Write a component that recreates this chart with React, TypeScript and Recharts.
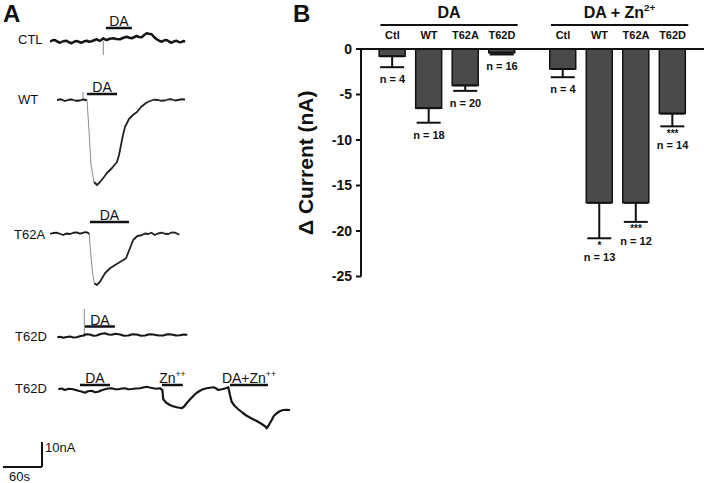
import React from 'react';
import {
  LineChart,
  Line,
  XAxis,
  YAxis,
  ReferenceLine,
  ComposedChart,
  Bar,
  ErrorBar,
  Scatter,
  Label,
} from 'recharts';

const FONT = '"Liberation Sans", Arial, Helvetica, sans-serif';
const INK = '#111111';
const PX_PER_S = 0.65;
const PX_PER_NA = 2.5;

// ---------- Panel A: current traces, [time (s), current (nA)] ----------
const ctlTrace: [number, number][] = [
  [0, -0.3], [4, 0.3], [7.7, 0.4], [11, -0.2], [15.4, -0.7], [20, -0.1], [25.6, 0.1], [29, -0.5],
  [33.3, -0.9], [37, -0.3], [41, 0], [45, -0.4], [48.7, -0.7], [52, -0.2], [56.4, 0.1], [60, -0.3],
  [64, -0.1], [68, 0.3], [71.8, 0.7], [75, 0.2], [76.9, 0.1], [80, 0.6], [82, 1.1], [85, 0.6],
  [87, 0.4], [92, 0.9], [97.4, 1.1], [102, 0.8], [107.7, 0.7], [112, 1.2], [118, 1.7], [122, 1.3],
  [125.6, 1.1], [130, 1.6], [133.3, 2.0], [137, 1.6], [141, 1.5], [145, 2.4], [148.7, 3.1], [152, 2.9],
  [156.4, 2.7], [160, 1.6], [164, 0.7], [168, 0.1], [171.8, -0.3], [175, 0.2], [179.5, 0.4], [183, -0.2],
  [187, -0.7], [191, -0.1], [194.9, 0.1], [199, -0.5], [202.6, -0.4], [205, 0], [207.7, -0.3],
];

const wtTrace: [number, number][] = [
  [0, 0], [6, 0.3], [12.3, -0.4], [18, 0.1], [23, 0.2], [29, -0.3], [35.4, -0.2], [40, 0.2],
  [44.6, 0], [46.2, -0.2], [49.2, -12], [52.3, -26], [56.9, -32.8], [61.5, -34], [66.2, -32.8],
  [72.3, -30.8], [76.9, -29.2], [84.6, -27.2], [92.3, -24.8], [95.4, -22], [98.5, -18], [101.5, -14],
  [104.6, -10.8], [110.8, -7.6], [116.9, -6], [123, -4.8], [129.2, -2.8], [136.9, -1.2], [143, -0.4],
  [149, 0.1], [155.4, 0], [160, -0.3], [166, -0.2], [172, 0.3], [177, 0.2], [182, -0.2], [186, 0],
  [192, 0.3], [197, 0.2],
];

const t62aTrace: [number, number][] = [
  [0, -0.4], [5, 0], [10.3, 0.13], [15, -0.3], [20.5, -0.8], [25, -0.2], [30.8, -0.4], [36, 0.1],
  [41, 0.27], [45, -0.2], [48.7, -0.13], [53, 0.3], [57.4, 0.27], [60.5, -0.4], [62.6, -8.1],
  [65.6, -16.1], [68.2, -20.1], [71.8, -20.8], [76.9, -19.5], [84.6, -16.1], [92.3, -14.1],
  [102.6, -12.4], [112.8, -10.8], [117, -10.1], [123, -6.1], [128, -2.8], [134.4, -1.2], [141, -0.9],
  [146, -0.2], [151.3, -0.4], [156, 0.1], [161.5, -0.8], [166, -0.2], [171.8, 0.13], [177, -0.3],
  [182, -0.4], [187, 0.2], [192.3, 0.13], [196, -0.3], [199, -0.67],
];

const t62dTrace: [number, number][] = [
  [0.5, -0.1], [5, 0.1], [9.7, -0.3], [15, 0], [20, 0.2], [25, -0.2], [30.3, -0.1], [35, 0.3],
  [40.5, 0.6], [45, 1.1], [50.8, 1.0], [56, 0.5], [61, 0.6], [67, 1.2], [73.8, 1.5], [79, 1.0],
  [84.2, 0.9], [90, 1.3], [96.9, 1.0], [103, 0.5], [109.7, 0.6], [116, 1.1], [122.6, 1.0], [129, 0.5],
  [135.4, 0.6], [142, 1.1], [148.2, 1.0], [156, 0.6], [163.5, 0.6], [170, 1.1], [176.5, 1.0],
  [183, 0.6], [189.2, 0.7], [195, 1.0], [200.5, 0.9],
];

const t62dZnTrace: [number, number][] = [
  [0.5, -0.1], [5.5, 0.2], [10.8, -0.4], [16, 0.1], [21.1, 0], [26, -0.3], [31.2, -0.7], [36, -1.0],
  [41.5, -1.5], [46, -0.9], [51.8, -0.7], [57, -1.3], [62, -1.1], [67, -0.5], [72.3, -0.1], [77, 0.2],
  [82.6, 0.3], [88, -0.1], [92.8, -0.1], [98, 0.2], [103, 0.3], [108, -0.1], [113.4, 0], [120, 0.2],
  [126.2, 0.3], [131, 0.6], [136.5, 0.9], [141, 0.6], [146.6, 0.3], [151, 0.1], [156.9, 0.3],
  [160.5, -0.4], [162, -4.1], [167, -5.6], [172.3, -6.4], [177, -6.9], [182.6, -7.3], [187, -7.5],
  [190.3, -7.7], [194, -7.0], [198, -5.7], [203, -4.2], [208.2, -2.8], [213, -1.6], [218.5, -0.7],
  [223, -0.1], [228.8, 0.3], [234, 0.5], [239, 0.7], [243, 0.3], [246.6, -0.4], [250, -0.2],
  [254.3, 0], [258, 0.3], [262, 0.7], [264.6, -2.4], [267.2, -5.1], [272, -6.8], [277.4, -8.1],
  [284, -9.5], [290.3, -10.7], [298, -11.8], [305.7, -12.8], [311, -13.6], [315.8, -14.4], [319, -15.0],
  [321, -15.7], [324, -14.6], [328.8, -12.4], [332, -10.8], [336.5, -9.7], [341, -8.9], [346.6, -8.4],
  [351, -8.3], [357, -8.4],
];

type Annot = { from: number; to: number; level: number; text: string; sup?: string };
type Spike = { t: number; to: number };

const ctlAnnots: Annot[] = [{ from: 86, to: 126, level: 5.2, text: 'DA' }];
const wtAnnots: Annot[] = [{ from: 46.2, to: 92.3, level: 2.4, text: 'DA' }];
const t62aAnnots: Annot[] = [{ from: 61.5, to: 121.5, level: 4.4, text: 'DA' }];
const t62dAnnots: Annot[] = [{ from: 43, to: 89, level: 4.2, text: 'DA' }];
const t62dZnAnnots: Annot[] = [
  { from: 33.8, to: 80, level: 1.6, text: 'DA' },
  { from: 160, to: 192, level: 1.6, text: 'Zn', sup: '++' },
  { from: 264.6, to: 323, level: 1.6, text: 'DA+Zn', sup: '++' },
];

const ctlSpikes: Spike[] = [{ t: 82, to: -5.6 }];
const wtSpikes: Spike[] = [{ t: 40, to: 3.2 }];
const t62dSpikes: Spike[] = [{ t: 42, to: 11.2 }];

// time windows (s) of the fast, faintly printed current drops
const wtFast: [number, number] = [46.2, 56.9];
const t62aFast: [number, number] = [60.5, 68.2];

const traceNames = ['CTL', 'WT', 'T62A', 'T62D', 'T62D'];

// scale bar: 60 s, 10 nA
const SCALE_SECONDS = 60;
const SCALE_NA = 10;

// ---------- Panel B: bar chart ----------
const conditions = ['Ctl', 'WT', 'T62A', 'T62D'];
const groupTitles = ['DA', 'DA + Zn'];
const groupTitleSups = ['', '2+'];
const daMean = [-0.8, -6.5, -4.0, -0.4];
const daSem = [1.2, 1.6, 0.6, 0.2];
const daN = [4, 18, 20, 16];
const daSig = ['', '', '', ''];
const znMean = [-2.2, -16.9, -16.9, -7.1];
const znSem = [0.9, 3.9, 2.1, 1.4];
const znN = [4, 13, 12, 14];
const znSig = ['', '*', '***', '***'];
const yTicks = [0, -5, -10, -15, -20, -25];

const GROUP_GAP = 0.67;
const groupData = [
  { mean: daMean, sem: daSem, n: daN, sig: daSig },
  { mean: znMean, sem: znSem, n: znN, sig: znSig },
];
const groupStart = (gi: number) => gi * (conditions.length + GROUP_GAP);
const rows = groupData.flatMap((g, gi) =>
  conditions.map((c, i) => ({
    pos: groupStart(gi) + i,
    cond: c,
    mean: g.mean[i],
    errRange: [g.sem[i], 0],
    errEnd: g.mean[i] - g.sem[i],
    n: g.n[i],
    sig: g.sig[i],
  }))
);

function AnnotText(props: any) {
  const { viewBox, text, sup, place = 'above', size = 14, bold = false, gap = 2 } = props;
  const vb = viewBox || {};
  let x = Number(vb.x ?? 0);
  let y = Number(vb.y ?? 0);
  let w = Number(vb.width ?? 0);
  let h = Number(vb.height ?? 0);
  if (vb.x1 !== undefined && vb.width === undefined) {
    x = Math.min(vb.x1, vb.x2);
    y = Math.min(vb.y1, vb.y2);
    w = Math.abs(vb.x2 - vb.x1);
    h = Math.abs(vb.y2 - vb.y1);
  }
  let tx = x + w / 2;
  let ty = y - gap;
  let anchor: 'middle' | 'start' = 'middle';
  if (place === 'right') {
    tx = x + 3;
    ty = y + 10;
    anchor = 'start';
  }
  if (place === 'below') {
    tx = x + 6;
    ty = y + h + 14;
    anchor = 'start';
  }
  return (
    <text
      x={tx}
      y={ty}
      textAnchor={anchor}
      fontSize={size}
      fontFamily={FONT}
      fontWeight={bold ? 'bold' : 'normal'}
      fill={INK}
    >
      {text}
      {sup ? (
        <tspan fontSize={size * 0.62} dy={-size * 0.42}>
          {sup}
        </tspan>
      ) : null}
    </text>
  );
}

function Trace(props: {
  left: number;
  top: number;
  width: number;
  t0?: number;
  yMin: number;
  yMax: number;
  points: [number, number][];
  annots: Annot[];
  spikes?: Spike[];
  fast?: [number, number];
  strokeWidth?: number;
  withScale?: { t: number; v: number };
}) {
  const { left, top, width, t0 = 0, yMin, yMax, points, annots, spikes = [], fast, strokeWidth = 2, withScale } = props;
  const height = (yMax - yMin) * PX_PER_NA;
  const data = points.map(([t, v]) => ({ t, v }));
  const segments = fast
    ? [
        { d: data.filter((p) => p.t <= fast[0]), stroke: '#161616', w: strokeWidth },
        { d: data.filter((p) => p.t >= fast[0] && p.t <= fast[1]), stroke: '#8c8c8c', w: 1 },
        { d: data.filter((p) => p.t >= fast[1]), stroke: '#222222', w: strokeWidth },
      ]
    : [{ d: data, stroke: '#161616', w: strokeWidth }];
  return (
    <div style={{ position: 'absolute', left, top, width, height }}>
      <LineChart width={width} height={height} data={data} margin={{ top: 0, right: 0, bottom: 0, left: 0 }}>
        <XAxis type="number" dataKey="t" domain={[t0, t0 + width / PX_PER_S]} hide allowDataOverflow />
        <YAxis type="number" domain={[yMin, yMax]} hide allowDataOverflow />
        {spikes.map((s, i) => (
          <ReferenceLine
            key={'sp' + i}
            segment={[{ x: s.t, y: 0 }, { x: s.t, y: s.to }]}
            stroke="#8a8a8a"
            strokeWidth={1}
            ifOverflow="visible"
          />
        ))}
        {segments.map((s, i) => (
          <Line
            key={'ln' + i}
            data={s.d}
            type="linear"
            dataKey="v"
            stroke={s.stroke}
            strokeWidth={s.w}
            strokeLinejoin="round"
            dot={false}
            activeDot={false}
            isAnimationActive={false}
          />
        ))}
        {annots.map((a, i) => (
          <ReferenceLine
            key={'an' + i}
            segment={[{ x: a.from, y: a.level }, { x: a.to, y: a.level }]}
            stroke={INK}
            strokeWidth={2.5}
            ifOverflow="visible"
            label={<AnnotText text={a.text} sup={a.sup} place="above" size={14} />}
          />
        ))}
        {withScale ? (
          <ReferenceLine
            segment={[{ x: withScale.t, y: withScale.v }, { x: withScale.t + SCALE_SECONDS, y: withScale.v }]}
            stroke={INK}
            strokeWidth={2}
            ifOverflow="visible"
            label={<AnnotText text={SCALE_SECONDS + 's'} place="below" size={13} />}
          />
        ) : null}
        {withScale ? (
          <ReferenceLine
            segment={[
              { x: withScale.t + SCALE_SECONDS, y: withScale.v },
              { x: withScale.t + SCALE_SECONDS, y: withScale.v + SCALE_NA },
            ]}
            stroke={INK}
            strokeWidth={2}
            ifOverflow="visible"
            label={<AnnotText text={SCALE_NA + 'nA'} place="right" size={13} />}
          />
        ) : null}
      </LineChart>
    </div>
  );
}

function NLabel(props: any) {
  const { cx, cy, payload } = props;
  if (cx == null || cy == null || !payload) return null;
  const sig = payload.sig as string;
  return (
    <g>
      {sig ? (
        <text x={cx} y={cy + 10.5} textAnchor="middle" fontSize={10} fontWeight="bold" fontFamily={FONT} fill={INK}>
          {sig}
        </text>
      ) : null}
      <text
        x={cx}
        y={cy + (sig ? 23 : 16)}
        textAnchor="middle"
        fontSize={11}
        fontWeight="bold"
        fontFamily={FONT}
        fill={INK}
      >
        {'n = ' + payload.n}
      </text>
    </g>
  );
}

function BarPanel() {
  const last = rows[rows.length - 1].pos;
  return (
    <div style={{ position: 'absolute', left: 290, top: 0 }}>
      <ComposedChart
        width={416}
        height={300}
        data={rows}
        margin={{ top: 29, right: 2, bottom: 23.5, left: 0 }}
      >
        <XAxis
          xAxisId={0}
          type="number"
          dataKey="pos"
          orientation="top"
          height={20}
          domain={[-0.86, last + 0.86]}
          allowDataOverflow
          ticks={rows.map((r) => r.pos)}
          interval={0}
          tickFormatter={(v: number) => {
            const r = rows.find((row) => Math.abs(row.pos - v) < 1e-6);
            return r ? r.cond : '';
          }}
          tickLine={false}
          tickSize={6}
          tickMargin={4}
          axisLine={{ stroke: INK, strokeWidth: 2 }}
          tick={{ fontSize: 11, fontWeight: 'bold', fontFamily: FONT, fill: INK }}
        />
        <YAxis
          yAxisId={0}
          type="number"
          domain={[-25, 0]}
          allowDataOverflow
          ticks={yTicks}
          interval={0}
          width={71}
          tickSize={5}
          tickMargin={4}
          axisLine={{ stroke: INK, strokeWidth: 2 }}
          tickLine={{ stroke: INK, strokeWidth: 2 }}
          tick={{ fontSize: 14, fontWeight: 'bold', fontFamily: FONT, fill: INK }}
        >
          <Label
            value="Δ Current (nA)"
            angle={-90}
            position="insideLeft"
            offset={16}
            style={{ textAnchor: 'middle', fontSize: 21, fontWeight: 'bold', fontFamily: FONT, fill: INK }}
          />
        </YAxis>
        <Bar
          dataKey="mean"
          barSize={26}
          fill="#4a4a4a"
          stroke={INK}
          strokeWidth={1.5}
          isAnimationActive={false}
        >
          <ErrorBar dataKey="errRange" width={12} stroke={INK} strokeWidth={2} direction="y" />
        </Bar>
        <Scatter dataKey="errEnd" shape={NLabel} isAnimationActive={false} legendType="none" />
        {groupTitles.map((title, gi) => (
          <ReferenceLine
            key={'g' + gi}
            segment={[
              { x: groupStart(gi) - 0.33, y: 2.64 },
              { x: groupStart(gi) + conditions.length - 1 + 0.43, y: 2.64 },
            ]}
            stroke={INK}
            strokeWidth={2}
            ifOverflow="visible"
            label={<AnnotText text={title} sup={groupTitleSups[gi]} place="above" size={16} bold gap={7} />}
          />
        ))}
      </ComposedChart>
    </div>
  );
}

export default function App() {
  return (
    <div
      style={{
        position: 'absolute',
        left: 0,
        top: 0,
        width: 706,
        height: 483,
        background: '#ffffff',
        overflow: 'hidden',
        fontFamily: FONT,
      }}
    >
      <svg width={706} height={483} style={{ position: 'absolute', left: 0, top: 0 }}>
        <text x={3} y={22} fontSize={24} fontWeight="bold" fontFamily={FONT} fill={INK}>
          A
        </text>
        <text x={293} y={22} fontSize={24} fontWeight="bold" fontFamily={FONT} fill={INK}>
          B
        </text>
        <text x={18} y={44} fontSize={13} fontFamily={FONT} fill={INK}>
          {traceNames[0]}
        </text>
        <text x={18} y={104} fontSize={13} fontFamily={FONT} fill={INK}>
          {traceNames[1]}
        </text>
        <text x={14} y={239} fontSize={13} fontFamily={FONT} fill={INK}>
          {traceNames[2]}
        </text>
        <text x={15} y={341} fontSize={13} fontFamily={FONT} fill={INK}>
          {traceNames[3]}
        </text>
        <text x={15} y={393} fontSize={13} fontFamily={FONT} fill={INK}>
          {traceNames[4]}
        </text>
      </svg>

      <Trace left={50} top={11} width={136} yMin={-6} yMax={12} points={ctlTrace} annots={ctlAnnots} spikes={ctlSpikes} strokeWidth={2.5} />
      <Trace left={57} top={80} width={129} yMin={-36} yMax={8} points={wtTrace} annots={wtAnnots} spikes={wtSpikes} fast={wtFast} strokeWidth={1.8} />
      <Trace left={50} top={208} width={131} yMin={-24} yMax={10} points={t62aTrace} annots={t62aAnnots} fast={t62aFast} strokeWidth={1.8} />
      <Trace left={57} top={306.5} width={132} yMin={-3} yMax={12} points={t62dTrace} annots={t62dAnnots} spikes={t62dSpikes} strokeWidth={2.2} />
      <Trace
        left={0}
        top={369}
        width={292}
        t0={-89.2}
        yMin={-37.6}
        yMax={8}
        points={t62dZnTrace}
        annots={t62dZnAnnots}
        strokeWidth={2.2}
        withScale={{ t: -84.6, v: -31.2 }}
      />

      <BarPanel />
    </div>
  );
}
